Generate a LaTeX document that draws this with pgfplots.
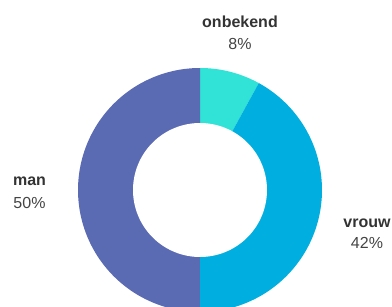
\documentclass[border=0pt]{standalone}
\usepackage{pgfplots}
\pgfplotsset{compat=1.18}
\usepackage{fontspec}
\setmainfont{Liberation Sans}
\definecolor{cOnb}{HTML}{30E3D6}
\definecolor{cVrouw}{HTML}{00AEDF}
\definecolor{cMan}{HTML}{5B6BB3}
\definecolor{tName}{HTML}{333333}
\definecolor{tPct}{HTML}{444444}
% data (percent)
\def\vOnb{8}
\def\vVrouw{42}
\def\vMan{50}
\pgfmathsetmacro{\aA}{90}
\pgfmathsetmacro{\aB}{90-3.6*\vOnb}
\pgfmathsetmacro{\aC}{\aB-3.6*\vVrouw}
\pgfmathsetmacro{\aD}{\aC-3.6*\vMan}
\def\cx{200}
\def\cy{117}
\def\R{122}
\def\r{67}
\begin{document}
\begin{tikzpicture}
\begin{axis}[
  scale only axis, width=392bp, height=307bp,
  xmin=0, xmax=392, ymin=0, ymax=307,
  hide axis, clip=true,
]
\addplot[fill=cOnb, draw=none, domain=\aB:\aA, samples=60] ({\cx+\R*cos(x)},{\cy+\R*sin(x)}) -- (axis cs:\cx,\cy) -- cycle;
\addplot[fill=cVrouw, draw=none, domain=\aC:\aB, samples=150] ({\cx+\R*cos(x)},{\cy+\R*sin(x)}) -- (axis cs:\cx,\cy) -- cycle;
\addplot[fill=cMan, draw=none, domain=\aD:\aC, samples=150] ({\cx+\R*cos(x)},{\cy+\R*sin(x)}) -- (axis cs:\cx,\cy) -- cycle;
\addplot[fill=white, draw=none, domain=0:360, samples=180] ({\cx+\r*cos(x)},{\cy+\r*sin(x)}) -- cycle;
\node[anchor=base, text=tName, font=\bfseries\fontsize{16bp}{19bp}\selectfont] at (axis cs:240,279) {onbekend};
\node[anchor=base, text=tPct, font=\fontsize{16bp}{19bp}\selectfont] at (axis cs:240,257) {8\%};
\node[anchor=base, text=tName, font=\bfseries\fontsize{16bp}{19bp}\selectfont] at (axis cs:367,79) {vrouw};
\node[anchor=base, text=tPct, font=\fontsize{16bp}{19bp}\selectfont] at (axis cs:367,58) {42\%};
\node[anchor=base, text=tName, font=\bfseries\fontsize{16bp}{19bp}\selectfont] at (axis cs:29.5,121) {man};
\node[anchor=base, text=tPct, font=\fontsize{16bp}{19bp}\selectfont] at (axis cs:29.5,98) {50\%};
\end{axis}
\pgfresetboundingbox
\useasboundingbox (0,0) rectangle (392bp,307bp);
\end{tikzpicture}
\end{document}
